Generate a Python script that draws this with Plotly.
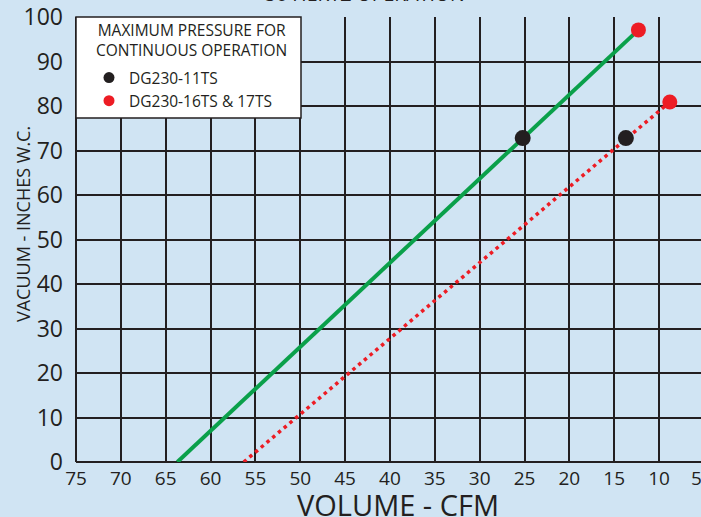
import plotly.graph_objects as go

# ---- data ----
green_x = [63.7, 12.3]          # DG230-11TS performance line (CFM)
green_y = [0, 97.1]             # vacuum, inches W.C.
red_x = [56.3, 8.8]             # DG230-16TS & 17TS performance line
red_y = [0, 80.9]
black_pts_x = [25.2, 13.7]      # max pressure, DG230-11TS
black_pts_y = [72.8, 72.8]
red_pts_x = [12.3, 8.8]         # max pressure, DG230-16TS & 17TS
red_pts_y = [97.1, 80.9]

x_ticks = [75, 70, 65, 60, 55, 50, 45, 40, 35, 30, 25, 20, 15, 10, 5]
y_ticks = [0, 10, 20, 30, 40, 50, 60, 70, 80, 90, 100]

legend_names = ["DG230-11TS", "DG230-16TS & 17TS"]
legend_title = ["MAXIMUM PRESSURE FOR", "CONTINUOUS OPERATION"]
title_text = "50 HERTZ OPERATION"
x_title = "VOLUME - CFM"
y_title = "VACUUM - INCHES W.C."

GREEN = "#0aa04a"
RED = "#ed1c24"
BLACK = "#231f20"
BG = "#d0e4f3"
FONT = "Open Sans"

W, H = 701, 517
L, T, B, R = 76, 17, 55, 0
PW = W - L - R
PH = H - T - B
PX_PER_CFM = 8.97
X_MIN = 75 - PW / PX_PER_CFM


def px_x(p):
    return (p - L) / PW


def px_y(p):
    return 1 - (p - T) / PH


fig = go.Figure()

fig.add_trace(go.Scatter(x=green_x, y=green_y, mode="lines",
                         line=dict(color=GREEN, width=4), showlegend=False,
                         cliponaxis=False))
fig.add_trace(go.Scatter(x=red_x, y=red_y, mode="lines",
                         line=dict(color=RED, width=3.5, dash="3.5px,4px"),
                         showlegend=False, cliponaxis=False))
fig.add_trace(go.Scatter(x=black_pts_x, y=black_pts_y, mode="markers",
                         marker=dict(color=BLACK, size=16), showlegend=False,
                         cliponaxis=False))
fig.add_trace(go.Scatter(x=red_pts_x, y=red_pts_y, mode="markers",
                         marker=dict(color=RED, size=15), showlegend=False,
                         cliponaxis=False))

# legend entries
fig.add_trace(go.Scatter(x=[None], y=[None], mode="markers", name=legend_names[0],
                         marker=dict(color=BLACK, size=11), legendgroup="a"))
fig.add_trace(go.Scatter(x=[None], y=[None], mode="markers", name=legend_names[1],
                         marker=dict(color=RED, size=11), legendgroup="b"))

# legend box
fig.add_shape(type="rect", xref="paper", yref="paper",
              x0=0, x1=px_x(301), y0=px_y(118), y1=1,
              fillcolor="white", line=dict(color=BLACK, width=1.5), layer="above")

fig.add_annotation(xref="paper", yref="paper", x=px_x(191), y=px_y(40),
                   text="<br>".join(legend_title), showarrow=False, align="center",
                   font=dict(family=FONT, size=15.5, color=BLACK),
                   xanchor="center", yanchor="middle")

fig.add_annotation(xref="paper", yref="paper", x=px_x(365), y=1,
                   yanchor="bottom", yshift=8, text=title_text, showarrow=False,
                   font=dict(family=FONT, size=19.5, color=BLACK))

# the last tick label (5 CFM) sits just past the window edge; show its visible part
for v in x_ticks:
    if v < X_MIN:
        fig.add_annotation(xref="paper", yref="paper",
                           x=px_x(L + (75 - v) * PX_PER_CFM), y=0, yanchor="top",
                           yshift=-1, text=str(v), showarrow=False,
                           font=dict(family=FONT, size=19, color=BLACK))

# axis titles
fig.add_annotation(xref="paper", yref="paper", x=px_x(398), y=px_y(504),
                   xanchor="center", yanchor="middle", text=x_title, showarrow=False,
                   font=dict(family=FONT, size=29, color=BLACK))
fig.add_annotation(xref="paper", yref="paper", x=px_x(23), y=px_y(224),
                   xanchor="center", yanchor="middle", text=y_title, showarrow=False,
                   textangle=-90, font=dict(family=FONT, size=18, color=BLACK))

fig.update_layout(
    width=W, height=H,
    margin=dict(l=L, r=R, t=T, b=B, autoexpand=False),
    paper_bgcolor=BG, plot_bgcolor=BG,
    font=dict(family=FONT, color=BLACK),
    showlegend=True,
    legend=dict(x=px_x(89), y=px_y(61), xanchor="left", yanchor="top",
                bgcolor="rgba(0,0,0,0)", borderwidth=0, tracegroupgap=0,
                font=dict(family=FONT, size=15.5, color=BLACK), itemwidth=30),
    xaxis=dict(range=[75, X_MIN], tickvals=x_ticks, ticktext=[str(v) for v in x_ticks],
               showgrid=True, gridcolor=BLACK, gridwidth=1.5, zeroline=False,
               showline=False, tickfont=dict(size=19, color=BLACK), ticklabelstandoff=3,
               ticks="", fixedrange=True, automargin=False),
    yaxis=dict(range=[0, 100], tickvals=y_ticks, showgrid=True, gridcolor=BLACK,
               gridwidth=1.5, zeroline=False, showline=False,
               tickfont=dict(size=23, color=BLACK), ticklabelstandoff=12,
               ticks="", fixedrange=True, automargin=False),
)

# bottom and left axis lines
fig.add_shape(type="line", xref="paper", yref="paper", x0=0, x1=1, y0=0, y1=0,
              line=dict(color=BLACK, width=2), layer="below")
fig.add_shape(type="line", xref="paper", yref="paper", x0=0, x1=0, y0=0, y1=1,
              line=dict(color=BLACK, width=2), layer="below")

fig.write_html(
    "out.html",
    config={"displayModeBar": False},
    post_script="document.body.style.margin='0';document.body.style.overflow='hidden';"
                "document.body.style.background='" + BG + "';",
)
